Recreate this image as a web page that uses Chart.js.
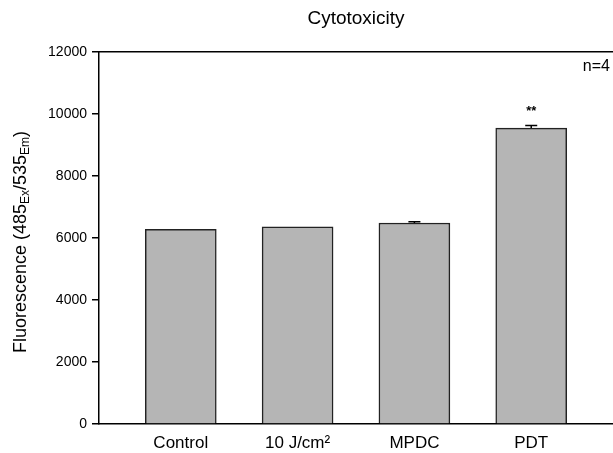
<!DOCTYPE html>
<html>
<head>
<meta charset="utf-8">
<script src="https://cdn.jsdelivr.net/npm/chart.js@4.4.0/dist/chart.umd.min.js"></script>
<style>
html, body { margin: 0; padding: 0; background: #fff; }
</style>
</head>
<body>
<canvas id="grafico" width="613" height="453"></canvas>
<script>
// datos
const categorias = ['Control', '10 J/cm\u00B2', 'MPDC', 'PDT'];
const valores = [6280, 6360, 6480, 9540];
const errores = [0, 0, 40, 80];
const significancia = ['', '', '', '**'];
const ticksY = [0, 2000, 4000, 6000, 8000, 10000, 12000];

const fuente = 'Arial, "Liberation Sans", sans-serif';

// dibuja lo que Chart.js no trae: linea superior, barras de error, asteriscos, n=4 y etiqueta Y con subindices
const extras = {
    id: 'extras',
    afterDatasetsDraw(chart) {
        const ctx = chart.ctx;
        const area = chart.chartArea;
        const x = chart.scales.x;
        const y = chart.scales.y;
        ctx.save();
        ctx.strokeStyle = '#000';
        ctx.lineWidth = 1.5;
        ctx.beginPath();
        ctx.moveTo(area.left, area.top);
        ctx.lineTo(chart.width, area.top);
        ctx.stroke();

        ctx.fillStyle = '#000';
        ctx.lineWidth = 1.5;
        valores.forEach((v, i) => {
            const px = x.getPixelForValue(i + 1);
            const pyTop = y.getPixelForValue(v + errores[i]);
            if (errores[i] > 0) {
                ctx.beginPath();
                ctx.moveTo(px, y.getPixelForValue(v));
                ctx.lineTo(px, pyTop);
                ctx.moveTo(px - 6, pyTop);
                ctx.lineTo(px + 6, pyTop);
                ctx.stroke();
            }
            if (significancia[i]) {
                ctx.font = 'bold 13px ' + fuente;
                ctx.textAlign = 'center';
                ctx.textBaseline = 'middle';
                ctx.fillText(significancia[i], px, pyTop - 14);
            }
        });

        ctx.font = '16px ' + fuente;
        ctx.textAlign = 'right';
        ctx.textBaseline = 'middle';
        ctx.fillText('n=4', 610, 67);

        // etiqueta del eje Y
        const partes = [
            ['Fluorescence (485', 18, 0],
            ['Ex', 12, 5],
            ['/535', 18, 0],
            ['Em', 12, 5],
            [')', 18, 0]
        ];
        let total = 0;
        partes.forEach(p => { ctx.font = p[1] + 'px ' + fuente; total += ctx.measureText(p[0]).width; });
        ctx.translate(21, 242);
        ctx.rotate(-Math.PI / 2);
        ctx.textAlign = 'left';
        ctx.textBaseline = 'middle';
        let pos = -total / 2;
        partes.forEach(p => {
            ctx.font = p[1] + 'px ' + fuente;
            ctx.fillText(p[0], pos, p[2]);
            pos += ctx.measureText(p[0]).width;
        });
        ctx.restore();
    }
};

const ctx = document.getElementById('grafico').getContext('2d');
const chart = new Chart(ctx, {
    type: 'bar',
    data: {
        datasets: [{
            data: valores.map((v, i) => ({ x: i + 1, y: v })),
            backgroundColor: '#b5b5b5',
            borderColor: '#222',
            borderWidth: 1.5,
            barThickness: 71
        }]
    },
    options: {
        responsive: false,
        animation: false,
        devicePixelRatio: 1,
        layout: { padding: { left: 0, right: 0, top: 0, bottom: 0 } },
        plugins: {
            legend: { display: false },
            tooltip: { enabled: false },
            title: {
                display: true,
                text: 'Cytotoxicity',
                fullSize: false,
                color: '#000',
                font: { family: fuente, size: 19, weight: 'normal' },
                padding: { top: 7, bottom: 22 }
            }
        },
        scales: {
            x: {
                type: 'linear',
                min: 0.3,
                max: 4.7,
                offset: false,
                afterBuildTicks: s => { s.ticks = categorias.map((c, i) => ({ value: i + 1 })); },
                afterFit: s => { s.height = 29; },
                ticks: {
                    callback: v => categorias[v - 1],
                    color: '#000',
                    font: { family: fuente, size: 17 },
                    padding: 1,
                    maxRotation: 0
                },
                grid: { display: false, offset: false },
                border: { display: true, color: '#000', width: 1.5 }
            },
            y: {
                min: 0,
                max: 12000,
                afterBuildTicks: s => { s.ticks = ticksY.map(v => ({ value: v })); },
                afterFit: s => { s.width = 99; },
                ticks: {
                    callback: v => String(v),
                    color: '#000',
                    font: { family: fuente, size: 14 },
                    padding: 5
                },
                grid: { drawOnChartArea: false, drawTicks: true, tickLength: 7, color: '#000', lineWidth: 1.5 },
                border: { display: true, color: '#000', width: 1.5 }
            }
        }
    },
    plugins: [extras]
});
</script>
</body>
</html>
